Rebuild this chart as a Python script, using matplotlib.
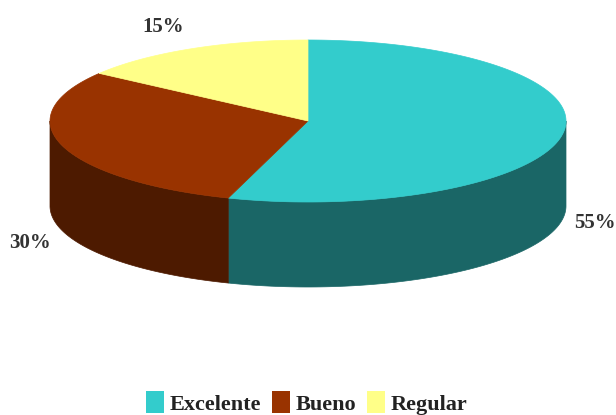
import numpy as np
import matplotlib
matplotlib.use("Agg")
import matplotlib.pyplot as plt
from matplotlib.patches import Patch

categories = ["Excelente", "Bueno", "Regular"]
values = [55, 30, 15]
top_colors = ["#33CCCC", "#993300", "#FFFF88"]
side_colors = ["#1A6666", "#4D1A00", "#80804D"]

plt.rcParams["font.family"] = ["Liberation Serif", "DejaVu Serif"]

# ellipse geometry in pixels
cx, cy = 308, 121
rx, ry = 258, 81
depth = 85


def px(a):
    return cx + rx * np.sin(a)


def py(a):
    return cy - ry * np.cos(a)


fig = plt.figure(figsize=(6.16, 4.15), dpi=100)
ax = fig.add_axes([0, 0, 1, 1])
ax.set_xlim(0, 616)
ax.set_ylim(415, 0)
ax.axis("off")

edges = np.cumsum([0] + values) / sum(values) * 2 * np.pi

# side walls first, only the front half shows
for i in range(len(values)):
    a0 = max(edges[i], np.pi / 2)
    a1 = min(edges[i + 1], 3 * np.pi / 2)
    if a1 <= a0:
        continue
    t = np.linspace(a0, a1, 100)
    xs = np.r_[px(t), px(t[::-1])]
    ys = np.r_[py(t), py(t[::-1]) + depth]
    ax.fill(xs, ys, color=side_colors[i], lw=0.5)

# top slices
for i in range(len(values)):
    t = np.linspace(edges[i], edges[i + 1], 200)
    xs = np.r_[cx, px(t)]
    ys = np.r_[cy, py(t)]
    ax.fill(xs, ys, color=top_colors[i], lw=0.5)

ax.text(163, 27, "15%", ha="center", va="center", fontsize=15, fontweight="bold", color="#333333")
ax.text(30, 243, "30%", ha="center", va="center", fontsize=15, fontweight="bold", color="#333333")
ax.text(595, 223, "55%", ha="center", va="center", fontsize=15, fontweight="bold", color="#333333")

handles = [Patch(facecolor=c, edgecolor="none") for c in top_colors]
ax.legend(handles, categories, loc="center", bbox_to_anchor=(307 / 616, 1 - 403 / 415), ncols=3,
          frameon=False, handlelength=0.8, handleheight=1.15, handletextpad=0.25, columnspacing=0.5,
          borderpad=0, labelcolor="#222222", prop={"size": 16, "weight": "bold"})

fig.savefig("out.png", dpi=100)
